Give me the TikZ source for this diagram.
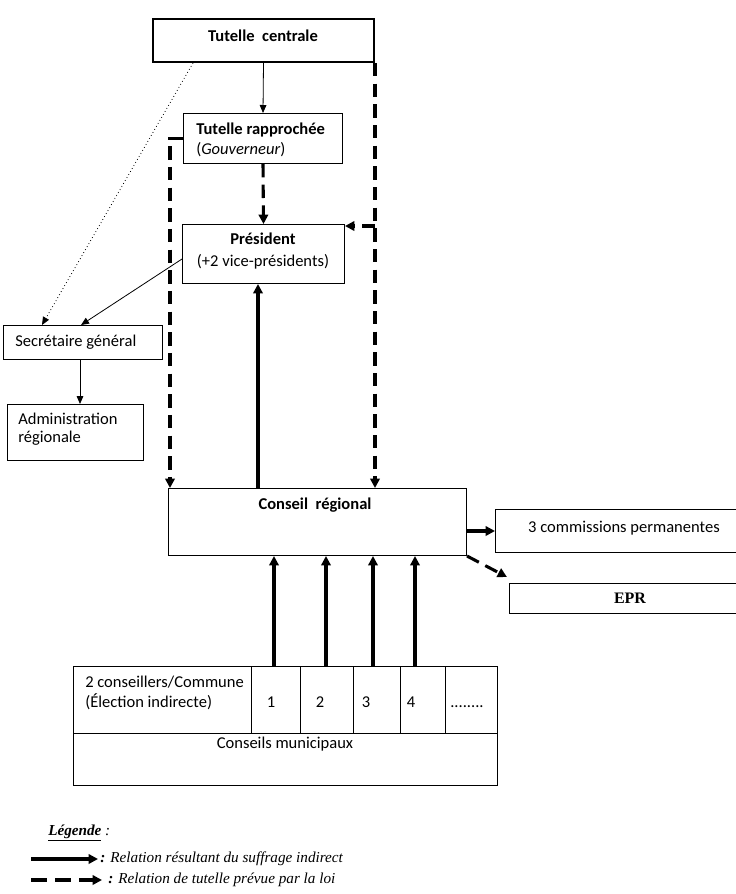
\documentclass[tikz,border=0pt]{standalone}
\usepackage{fontspec}
\setmainfont{Carlito}
\newfontfamily\tnr{Liberation Serif}
\usetikzlibrary{arrows.meta}
\begin{document}
\begin{tikzpicture}[x=0.75pt,y=-0.75pt,
  font=\fontsize{12.4}{15.5}\selectfont,
  box/.style={draw, line width=0.75pt, rectangle, inner sep=0pt, anchor=north west},
  lbl/.style={inner sep=0pt, align=left},
  thinarr/.style={line width=0.6pt, -{Triangle[length=6pt,width=5pt]}},
  strong/.style={line width=2.3pt, -{Triangle[length=7pt,width=7pt]}},
  tut/.style={line width=2.3pt, dash pattern=on 10pt off 5.5pt, -{Triangle[length=7pt,width=7pt]}},
  dotarr/.style={line width=0.6pt, dotted, -{Triangle[length=6pt,width=5pt]}}]
\useasboundingbox (0,0) rectangle (736,894);

% boxes
\node[box, line width=1.5pt, minimum width=165.75pt, minimum height=32.25pt] (tc) at (152,18) {};
\node[box, minimum width=119.25pt, minimum height=37.5pt] (tr) at (183,113) {};
\node[box, minimum width=121.5pt, minimum height=44.25pt] (pres) at (182,224) {};
\node[box, minimum width=119.25pt, minimum height=25.5pt] (sg) at (3,325) {};
\node[box, minimum width=102pt, minimum height=42pt] (ar) at (7,404) {};
\node[box, minimum width=223.5pt, minimum height=50.25pt] (cr) at (168,488) {};
\node[box, minimum width=187.5pt, minimum height=32.25pt] (cp) at (495,509) {};
\node[box, minimum width=180pt, minimum height=22.5pt] (epr) at (509,583) {};
% table
\node[box, minimum width=133.5pt, minimum height=50.25pt] (c0) at (73,666) {};
\node[box, minimum width=36.75pt, minimum height=50.25pt] (c1) at (251,666) {};
\node[box, minimum width=39.75pt, minimum height=50.25pt] (c2) at (300,666) {};
\node[box, minimum width=35.25pt, minimum height=50.25pt] (c3) at (353,666) {};
\node[box, minimum width=33.75pt, minimum height=50.25pt] (c4) at (400,666) {};
\node[box, minimum width=39pt, minimum height=50.25pt] (c5) at (445,666) {};
\node[box, minimum width=318pt, minimum height=39pt] (cm) at (73,733) {};

% texts
\node[lbl] (tct) at (263,36) {\textbf{Tutelle\ \ centrale}};
\node[lbl, anchor=west] (trt) at (196,140) {\textbf{Tutelle rapprochée}\\(\textit{Gouverneur})};
\node[lbl, align=center] (prest) at (263,251) {\textbf{Président}\\[1pt](+2 vice-présidents)};
\node[lbl, anchor=west] (sgt) at (15,342) {Secrétaire général};
\node[lbl, anchor=west, font=\fontsize{12.4}{13.5}\selectfont] (art) at (18,429) {Administration\\régionale};
\node[lbl] (crt) at (315,505) {\textbf{Conseil\ \ régional}};
\node[lbl] (cpt) at (624,528) {3 commissions permanentes};
\node[lbl, font=\tnr\bfseries\fontsize{12}{14}\selectfont] (eprt) at (630,598) {EPR};
\node[lbl, anchor=west] (c0t) at (85,693) {2 conseillers/Commune\\(Élection indirecte)};
\node[lbl] (c1t) at (271,702) {1};
\node[lbl] (c2t) at (320,702) {2};
\node[lbl] (c3t) at (366,702) {3};
\node[lbl] (c4t) at (411,702) {4};
\node[lbl, anchor=base west] (c5t) at (450,707) {........};
\node[lbl] (cmt) at (285,744) {Conseils municipaux};

% connectors
\draw[thinarr] (tc.south) -- (tr.north);
\draw[tut] (tr.west) -| ([xshift=1.5pt]cr.north west);
\draw[tut] (tr.south) -- (pres.north);
\draw[tut] (tc.south east) -- (tc.south east |- cr.north);
\draw[tut] ([yshift=-1.5pt]tc.south east |- pres.north east) -- ([yshift=-1.5pt]pres.north east);
\draw[strong] (cr.north -| 258,0) -- (pres.south -| 258,0);
\draw[dotarr] (tc.south -| 193,0) -- (sg.north -| 42,0);
\draw[thinarr] (pres.west |- 0,259) -- (sg.north -| 81,0);
\draw[thinarr] (sg.south -| 80,0) -- (ar.north -| 80,0);
\draw[strong] (c1.north -| 274,0) -- (cr.south -| 274,0);
\draw[strong] (c2.north -| 326,0) -- (cr.south -| 326,0);
\draw[strong] (c3.north -| 373,0) -- (cr.south -| 373,0);
\draw[strong] (c4.north -| 415,0) -- (cr.south -| 415,0);
\draw[strong] (cr.east |- cp.west) -- (cp.west);
\draw[tut] (cr.south east) -- ([xshift=-1.5pt,yshift=4.5pt]epr.north west);

% legend
\coordinate (l1a) at (31,859);
\coordinate (l1b) at (98,859);
\coordinate (l2a) at (31,880);
\coordinate (l2b) at (102,880);
\node[lbl, anchor=west, font=\tnr\fontsize{11.4}{13}\selectfont] (leg) at (48,833) {\underline{\textbf{\textit{Légende}}} \textit{:}};
\draw[strong] (l1a) -- (l1b);
\draw[strong, dash pattern=on 12pt off 6pt] (l2a) -- (l2b);
\node[lbl, anchor=west, font=\tnr\itshape\fontsize{11.4}{13}\selectfont] (lg1) at (100,859) {\textbf{:} Relation résultant du suffrage indirect};
\node[lbl, anchor=west, font=\tnr\itshape\fontsize{11.4}{13}\selectfont] (lg2) at (108,880) {\textbf{:} Relation de tutelle prévue par la loi};
\end{tikzpicture}
\end{document}
